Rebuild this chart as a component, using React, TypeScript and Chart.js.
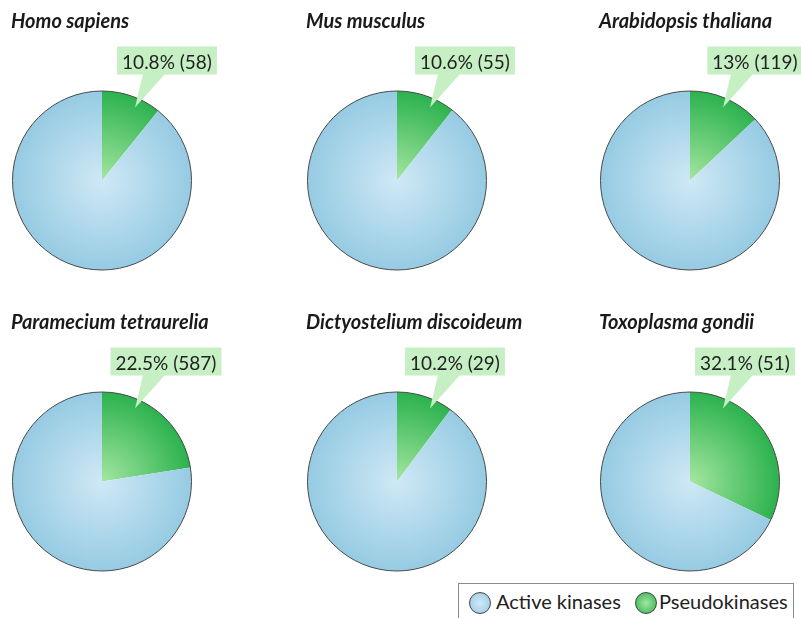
import React, { useEffect, useRef } from "react";
import { Chart, registerables } from "chart.js";
Chart.register(...registerables);

const species = [
  "Homo sapiens",
  "Mus musculus",
  "Arabidopsis thaliana",
  "Paramecium tetraurelia",
  "Dictyostelium discoideum",
  "Toxoplasma gondii",
];
const pseudoPercent = [10.8, 10.6, 13, 22.5, 10.2, 32.1];
const pseudoCount = [58, 55, 119, 587, 29, 51];
const seriesLabels = ["Pseudokinases", "Active kinases"];

// layout (not data)
const CALLOUT_DX = [65, 68, 65, 64, 58, 55];
const COL_X = [0, 295, 588];
const ROW_Y = [0, 301];
const CX = 102;
const CY = 180.5;
const R = 89.5;
const W = 290;
const H = 300;

const BLUE_IN = "#cfe8f5";
const BLUE_OUT = "#96cbe3";
const GREEN_IN = "#a4e6a0";
const GREEN_OUT = "#2cb24e";

function gradientFor(chart: any, idx: number) {
  const a = chart.chartArea;
  if (!a) return idx === 0 ? GREEN_OUT : BLUE_OUT;
  const x = (a.left + a.right) / 2;
  const y = (a.top + a.bottom) / 2;
  const r = Math.min(a.right - a.left, a.bottom - a.top) / 2;
  const g = chart.ctx.createRadialGradient(x, y, 0, x, y, r);
  if (idx === 0) {
    g.addColorStop(0, GREEN_IN);
    g.addColorStop(1, GREEN_OUT);
  } else {
    g.addColorStop(0, BLUE_IN);
    g.addColorStop(1, BLUE_OUT);
  }
  return g;
}

function PieCell({ i }: { i: number }) {
  const ref = useRef<HTMLCanvasElement | null>(null);
  useEffect(() => {
    if (!ref.current) return;
    const pct = pseudoPercent[i];
    const decor = {
      id: "decor" + i,
      afterDraw(chart: any) {
        const ctx = chart.ctx;
        const a = chart.chartArea;
        const x = (a.left + a.right) / 2;
        const y = (a.top + a.bottom) / 2;
        const r = Math.min(a.right - a.left, a.bottom - a.top) / 2;
        ctx.save();
        // outer outline
        ctx.beginPath();
        ctx.arc(x, y, r, 0, Math.PI * 2);
        ctx.strokeStyle = "#4a4a4a";
        ctx.lineWidth = 1;
        ctx.stroke();
        // title
        ctx.fillStyle = "#1a1a1a";
        ctx.font = "bold italic 20px Lato";
        ctx.textBaseline = "alphabetic";
        ctx.textAlign = "left";
        ctx.fillText(species[i], 11, 28);
        // callout
        const label = `${pct}% (${pseudoCount[i]})`;
        ctx.font = "19px Lato";
        const tw = ctx.measureText(label).width;
        const tcx = x + CALLOUT_DX[i];
        const bx = tcx - tw / 2 - 5;
        const bw = tw + 10;
        const bTop = y - 134;
        const bBot = y - 106;
        const tipX = x + 33;
        const tipY = y - 73;
        ctx.fillStyle = "#c6efc4";
        ctx.fillRect(bx, bTop, bw, bBot - bTop);
        ctx.beginPath();
        ctx.moveTo(tipX + 8, bBot - 0.5);
        ctx.lineTo(tipX + 30, bBot - 0.5);
        ctx.lineTo(tipX, tipY);
        ctx.closePath();
        ctx.fill();
        ctx.fillStyle = "#222";
        ctx.textAlign = "center";
        ctx.fillText(label, tcx, y - 112);
        ctx.restore();
      },
    };
    const chart = new Chart(ref.current, {
      type: "pie",
      data: {
        labels: seriesLabels,
        datasets: [
          {
            data: [pct, Math.round((100 - pct) * 10) / 10],
            backgroundColor: (c: any) => gradientFor(c.chart, c.dataIndex),
            borderWidth: 0,
          },
        ],
      },
      options: {
        responsive: false,
        animation: false,
        events: [],
        layout: {
          padding: {
            left: CX - R,
            right: W - CX - R,
            top: CY - R,
            bottom: H - CY - R,
          },
        },
        plugins: {
          legend: { display: false },
          tooltip: { enabled: false },
        },
      },
      plugins: [decor],
    });
    return () => chart.destroy();
  }, [i]);
  const col = i % 3;
  const row = Math.floor(i / 3);
  return (
    <canvas
      ref={ref}
      width={W}
      height={H}
      style={{ position: "absolute", left: COL_X[col], top: ROW_Y[row], width: W, height: H }}
    />
  );
}

function LegendDot({ inner, outer, left }: { inner: string; outer: string; left: number }) {
  return (
    <div
      style={{
        position: "absolute",
        left,
        top: 8,
        width: 20,
        height: 20,
        borderRadius: "50%",
        border: "1px solid #444",
        background: `radial-gradient(circle at 50% 50%, ${inner}, ${outer})`,
      }}
    />
  );
}

export default function App() {
  return (
    <div
      style={{
        position: "fixed",
        left: 0,
        top: 0,
        width: 801,
        height: 618,
        overflow: "hidden",
        background: "#fff",
      }}
    >
      {species.map((_, i) => (
        <PieCell key={i} i={i} />
      ))}
      <div
        style={{
          position: "absolute",
          left: 458,
          top: 583,
          width: 336,
          height: 45,
          border: "1px solid #8a8a8a",
          boxSizing: "border-box",
          background: "#fff",
          fontFamily: "Lato",
          fontSize: 20,
          color: "#222",
          zIndex: 2,
        }}
      >
        <LegendDot inner={BLUE_IN} outer={BLUE_OUT} left={10} />
        <div style={{ position: "absolute", left: 37, top: 5, lineHeight: "24px", whiteSpace: "nowrap" }}>
          {seriesLabels[1]}
        </div>
        <LegendDot inner={GREEN_IN} outer={GREEN_OUT} left={176} />
        <div style={{ position: "absolute", left: 200, top: 5, lineHeight: "24px", whiteSpace: "nowrap" }}>
          {seriesLabels[0]}
        </div>
      </div>
    </div>
  );
}
